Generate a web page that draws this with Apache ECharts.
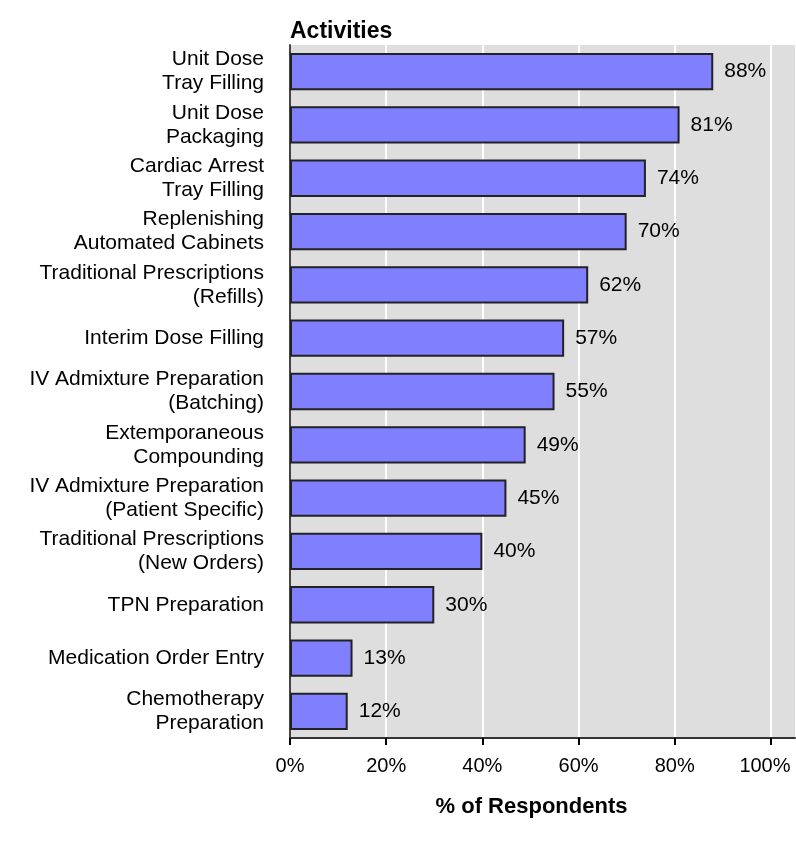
<!DOCTYPE html>
<html>
<head>
<meta charset="utf-8">
<script src="https://cdn.jsdelivr.net/npm/echarts@6/dist/echarts.min.js"></script>
<style>
  html, body { margin: 0; padding: 0; background: #fff; }
  #chart { width: 796px; height: 851px; }
</style>
</head>
<body>
<div id="chart"></div>
<script>
const categories = [
  "Unit Dose\nTray Filling",
  "Unit Dose\nPackaging",
  "Cardiac Arrest\nTray Filling",
  "Replenishing\nAutomated Cabinets",
  "Traditional Prescriptions\n(Refills)",
  "Interim Dose Filling",
  "IV Admixture Preparation\n(Batching)",
  "Extemporaneous\nCompounding",
  "IV Admixture Preparation\n(Patient Specific)",
  "Traditional Prescriptions\n(New Orders)",
  "TPN Preparation",
  "Medication Order Entry",
  "Chemotherapy\nPreparation"
];
const respondents = [88, 81, 74, 70, 62, 57, 55, 49, 45, 40, 30, 13, 12];
const tickValues = [0, 20, 40, 60, 80, 100];

const font = "Liberation Sans, Arial, sans-serif";
const chart = echarts.init(document.getElementById("chart"));

const option = {
  animation: false,
  title: {
    text: "Activities",
    left: 285,
    top: 15,
    textStyle: { fontFamily: font, fontSize: 23, fontWeight: "bold", color: "#000" }
  },
  grid: {
    left: 290,
    right: 1,
    top: 45,
    bottom: 113,
    outerBoundsMode: "none",
    containLabel: false,
    show: true,
    backgroundColor: "#dedede",
    borderWidth: 0
  },
  xAxis: {
    type: "value",
    min: 0,
    max: 105,
    interval: 20,
    name: "% of Respondents",
    nameLocation: "middle",
    nameGap: 58,
    nameTextStyle: {
      fontFamily: font, fontSize: 22, fontWeight: "bold", color: "#000",
      padding: [0, 22, 0, 0]
    },
    axisLine: { show: true, lineStyle: { color: "#333", width: 2 } },
    axisTick: { show: true, length: 7, customValues: tickValues, lineStyle: { color: "#000", width: 2 } },
    axisLabel: {
      customValues: tickValues,
      fontFamily: font, fontSize: 20, color: "#000", margin: 18,
      formatter: (v) => (v === 100 ? "{last|100%}" : v + "%"),
      rich: {
        last: { fontFamily: font, fontSize: 20, color: "#000", padding: [0, 12, 0, 0] }
      }
    },
    splitLine: { show: true, lineStyle: { color: "#ffffff", width: 2 } }
  },
  yAxis: {
    type: "category",
    inverse: true,
    data: categories,
    axisLine: { show: true, lineStyle: { color: "#444", width: 2 } },
    axisTick: { show: false },
    axisLabel: {
      fontFamily: font, fontSize: 21, color: "#000",
      align: "right", margin: 26, lineHeight: 24
    },
    splitLine: { show: false }
  },
  series: [
    {
      type: "bar",
      name: "Respondents",
      data: respondents,
      barCategoryGap: "30%",
      itemStyle: { color: "#8080ff", borderColor: "#222", borderWidth: 2 },
      label: {
        show: true,
        position: "right",
        distance: 11,
        fontFamily: font,
        fontSize: 21,
        color: "#000",
        formatter: (p) => p.value + "%"
      }
    }
  ]
};

chart.setOption(option);
</script>
</body>
</html>
